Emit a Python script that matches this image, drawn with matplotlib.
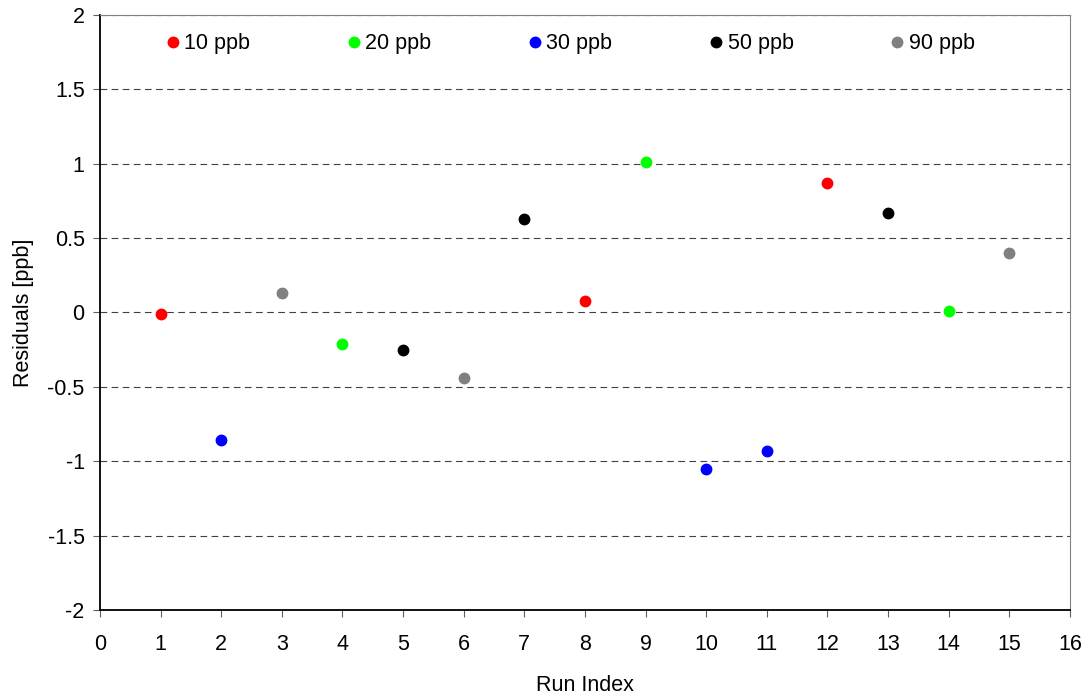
import matplotlib.pyplot as plt

plt.rcParams['font.family'] = ['Liberation Sans', 'DejaVu Sans']

# residuals per concentration level
run_10 = [1, 8, 12]
res_10 = [-0.01, 0.08, 0.87]
run_20 = [4, 9, 14]
res_20 = [-0.21, 1.01, 0.01]
run_30 = [2, 10, 11]
res_30 = [-0.86, -1.05, -0.93]
run_50 = [5, 7, 13]
res_50 = [-0.25, 0.63, 0.67]
run_90 = [3, 6, 15]
res_90 = [0.13, -0.44, 0.40]

labels = ["10 ppb", "20 ppb", "30 ppb", "50 ppb", "90 ppb"]
colors = ["#ff0000", "#00ff00", "#0000ff", "#000000", "#808080"]

fig = plt.figure(figsize=(10.83, 6.97), dpi=100)
ax = fig.add_axes([0.0923, 0.1248, 0.8957, 0.8537])

series = [(run_10, res_10), (run_20, res_20), (run_30, res_30),
          (run_50, res_50), (run_90, res_90)]
for (x, y), lab, c in zip(series, labels, colors):
    ax.plot(x, y, 'o', color=c, markersize=7.5, label=lab, linestyle='none')

ax.set_xlim(0, 16)
ax.set_ylim(-2, 2)
ax.set_xticks(range(0, 17))
ax.set_yticks([-2, -1.5, -1, -0.5, 0, 0.5, 1, 1.5, 2])
ax.set_yticklabels(["-2", "-1.5", "-1", "-0.5", "0", "0.5", "1", "1.5", "2"])
ax.yaxis.grid(True, linestyle=(0, (6, 4)), color='#404040', linewidth=0.8)
ax.set_axisbelow(True)

for side in ['top', 'right']:
    ax.spines[side].set_color('#808080')
for side in ['left', 'bottom']:
    ax.spines[side].set_color('black')
    ax.spines[side].set_linewidth(1.3)

fs = 15.5
ax.tick_params(axis='both', direction='out', length=5, labelsize=fs, color='#606060')
ax.tick_params(axis='x', pad=12)
ax.tick_params(axis='y', pad=6)
ax.set_xlabel("Run Index", fontsize=fs, labelpad=15)
ax.set_ylabel("Residuals [ppb]", fontsize=fs, labelpad=10)

ax.legend(loc='upper left', bbox_to_anchor=(0.051, 1.0), ncol=5, frameon=False,
          fontsize=fs, handlelength=0.45, handletextpad=0.3, columnspacing=4.6,
          markerscale=1.0, borderaxespad=0.45)

fig.savefig("out.png", dpi=100)
